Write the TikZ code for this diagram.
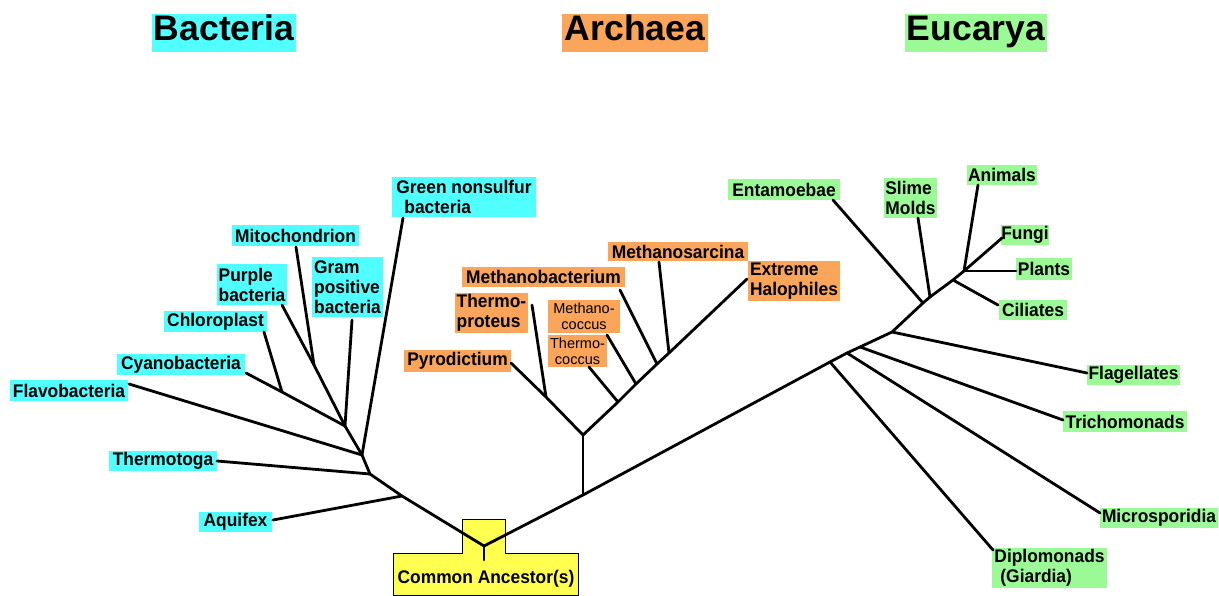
\documentclass[tikz,border=0pt]{standalone}
\usepackage{fontspec}
\setmainfont{Liberation Sans}
\newfontfamily\labfont[FakeStretch=0.95]{Liberation Sans}
\definecolor{bcol}{RGB}{80,255,255}
\definecolor{acol}{RGB}{250,165,90}
\definecolor{ecol}{RGB}{155,250,150}
\definecolor{ycol}{RGB}{255,255,80}
\tikzset{
  lab/.style={inner sep=0pt, align=left, font=\labfont\bfseries\fontsize{18.3}{20}\selectfont},
  bac/.style={lab, fill=bcol},
  arc/.style={lab, fill=acol},
  euc/.style={lab, fill=ecol},
  small/.style={inner sep=0pt, align=center, fill=acol, font=\fontsize{14.5}{16}\selectfont},
  title/.style={inner sep=0pt, anchor=north, text height=26pt, text depth=12pt, font=\bfseries\fontsize{35.5}{38}\selectfont},
  br/.style={line width=2.8pt, line cap=round, line join=round},
  wh/.style 2 args={minimum width=#1, minimum height=#2},
}
\begin{document}
\begin{tikzpicture}[x=1pt,y=-1pt]
\useasboundingbox (0,0) rectangle (1219,596);
% titles
\node[title, fill=bcol, minimum width=144pt] (tb) at (224,14) {Bacteria};
\node[title, fill=acol, minimum width=146pt] (ta) at (635,14) {Archaea};
\node[title, fill=ecol, minimum width=142pt] (te) at (976,14) {Eucarya};
% common ancestor
\path[fill=ycol, draw=black, line width=0.8pt] (462,519) -- (505,519) -- (505,553) -- (578,553) -- (578,595.5) -- (393,595.5) -- (393,553) -- (462,553) -- cycle;
\node[lab, anchor=base] (ca) at (486,583) {Common Ancestor(s)};
\coordinate (R) at (484,546);
\coordinate (Rs) at (484,560);
% bacteria labels
\node[bac, wh={144pt}{40pt}] (green) at (464,197) {Green nonsulfur\\\hspace{8pt}bacteria};
\node[bac, wh={127pt}{21pt}] (mito) at (295.5,235.5) {Mitochondrion};
\node[bac, wh={70pt}{41pt}] (purple) at (252,284.5) {Purple\\bacteria};
\node[bac, wh={71pt}{60pt}] (gram) at (347.5,287) {Gram\\positive\\bacteria};
\node[bac, wh={103pt}{21pt}] (chloro) at (215.5,321.5) {Chloroplast};
\node[bac, wh={128pt}{21pt}] (cyano) at (181,364.5) {Cyanobacteria};
\node[bac, wh={118pt}{21pt}] (flavo) at (69,390.5) {Flavobacteria};
\node[bac, wh={108pt}{20pt}] (thtoga) at (163,461) {Thermotoga};
\node[bac, wh={73pt}{20pt}] (aquifex) at (235.5,522) {Aquifex};
% archaea labels
\node[arc, wh={140pt}{19pt}] (msarc) at (678,251.5) {Methanosarcina};
\node[arc, wh={92pt}{40pt}] (halo) at (794,281) {Extreme\\Halophiles};
\node[arc, wh={163pt}{20pt}] (mbact) at (543.5,277) {Methanobacterium};
\node[arc, wh={73pt}{40pt}] (tprot) at (491.5,313) {Thermo-\\proteus};
\node[small, wh={72pt}{33pt}] (mcocc) at (584,316.5) {Methano-\\coccus};
\node[small, wh={59pt}{32pt}] (tcocc) at (577.5,351) {Thermo-\\coccus};
\node[arc, wh={107pt}{22pt}] (pyro) at (457.5,361) {Pyrodictium};
% eucarya labels
\node[euc, wh={112pt}{21pt}] (ent) at (784,189.5) {Entamoebae};
\node[euc, wh={53pt}{40pt}] (slime) at (910.5,198) {Slime\\Molds};
\node[euc, wh={70pt}{20pt}] (animals) at (1002,175) {Animals};
\node[euc, wh={46pt}{20pt}] (fungi) at (1025,235) {Fungi};
\node[euc, wh={56pt}{22pt}] (plants) at (1044,269) {Plants};
\node[euc, wh={68pt}{20pt}] (cil) at (1033,310) {Ciliates};
\node[euc, wh={93pt}{20pt}] (flag) at (1133.5,375) {Flagellates};
\node[euc, wh={124pt}{21pt}] (trich) at (1125,421.5) {Trichomonads};
\node[euc, wh={118pt}{20pt}] (micro) at (1159,518) {Microsporidia};
\node[euc, wh={115pt}{40pt}] (diplo) at (1049.5,568) {Diplomonads\\\hspace{6pt}(Giardia)};
% tips
\coordinate (greenT) at (403,218);
\coordinate (mitoT) at (296,247);
\coordinate (purpleT) at (282,305);
\coordinate (gramT) at (352,320);
\coordinate (chloroT) at (264,332);
\coordinate (cyanoT) at (246,373);
\coordinate (flavoT) at (129,384);
\coordinate (thtogaT) at (217,461);
\coordinate (aquifexT) at (273,520);
\coordinate (msarcT) at (659,262);
\coordinate (haloT) at (747,279);
\coordinate (mbactT) at (620,290);
\coordinate (tprotT) at (532,305);
\coordinate (mcoccT) at (607,335);
\coordinate (tcoccT) at (589,367);
\coordinate (pyroT) at (511,363);
\coordinate (entT) at (833,200);
\coordinate (slimeT) at (918,218);
\coordinate (animalsT) at (978,185);
\coordinate (fungiT) at (1002,238);
\coordinate (plantsT) at (1016,271);
\coordinate (cilT) at (998,305);
\coordinate (flagT) at (1087,373);
\coordinate (trichT) at (1063,420);
\coordinate (microT) at (1100,513);
\coordinate (diploT) at (993,550);
% internal nodes
\coordinate (Baq) at (402,496);
\coordinate (Bth) at (370,474);
\coordinate (Bfg) at (362,455);
\coordinate (B1) at (345,426);
\coordinate (Bmi) at (314,365);
\coordinate (Bch) at (282,392);
\coordinate (A0) at (583,495);
\coordinate (A1) at (583,435);
\coordinate (Atp) at (546,397);
\coordinate (Atc) at (618,402);
\coordinate (Amc) at (636,384);
\coordinate (Amb) at (657,364);
\coordinate (Ams) at (669,353);
\coordinate (E1) at (830,362);
\coordinate (E2) at (847,353);
\coordinate (E3) at (860,347);
\coordinate (E4) at (892,332);
\coordinate (E5) at (923,303);
\coordinate (E5b) at (930,297);
\coordinate (E6) at (953,280);
\coordinate (E7) at (964,271);
% tree
\draw[br] (Rs) -- (R);
\draw[br] (R) -- (Baq) -- (Bth) -- (Bfg) -- (B1);
\draw[br] (aquifexT) -- (Baq);
\draw[br] (thtogaT) -- (Bth);
\draw[br] (flavoT) -- (Bfg);
\draw[br] (greenT) -- (Bfg);
\draw[br] (gramT) -- (B1);
\draw[br] (purpleT) -- (Bmi) -- (B1);
\draw[br] (mitoT) -- (Bmi);
\draw[br] (cyanoT) -- (Bch) -- (B1);
\draw[br] (chloroT) -- (Bch);
\draw[br] (R) -- (A0) -- (E1) -- (E2) -- (E3) -- (E4) -- (E5) -- (E5b) -- (E6) -- (E7);
\draw[br] (A0) -- (A1);
\draw[br] (pyroT) -- (Atp) -- (A1);
\draw[br] (tprotT) -- (Atp);
\draw[br] (A1) -- (Atc) -- (Amc) -- (Amb) -- (Ams) -- (haloT);
\draw[br] (tcoccT) -- (Atc);
\draw[br] (mcoccT) -- (Amc);
\draw[br] (mbactT) -- (Amb);
\draw[br] (msarcT) -- (Ams);
\draw[br] (E1) -- (diploT);
\draw[br] (E2) -- (microT);
\draw[br] (E3) -- (trichT);
\draw[br] (E4) -- (flagT);
\draw[br] (entT) -- (E5);
\draw[br] (slimeT) -- (E5b);
\draw[br] (E6) -- (cilT);
\draw[br] (animalsT) -- (E7);
\draw[br] (fungiT) -- (E7);
\draw[br] (E7) -- (plantsT);
\end{tikzpicture}
\end{document}
